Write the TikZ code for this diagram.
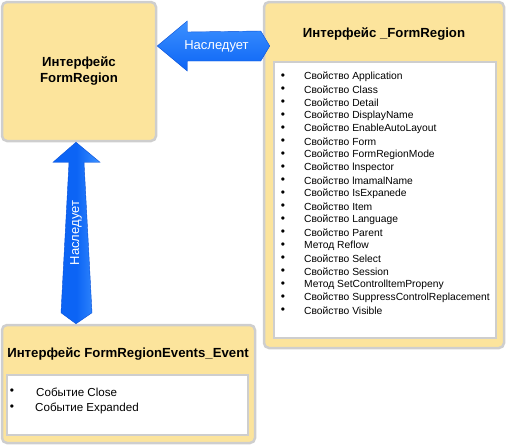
\documentclass[tikz,border=0pt]{standalone}
\usepackage{fontspec}
\setmainfont{Liberation Sans}
\definecolor{boxyellow}{RGB}{252,228,156}
\definecolor{boxgray}{RGB}{206,206,206}
\definecolor{arrowblue}{RGB}{12,100,245}
\definecolor{arrowlight}{RGB}{60,145,255}
\definecolor{arrowdark}{RGB}{8,80,215}
\usetikzlibrary{calc}

\begin{document}
\begin{tikzpicture}[x=1pt, y=-1pt,
    ifacebox/.style={draw=boxgray, line width=2.5pt, fill=boxyellow, rounded corners=5pt},
    listpanel/.style={draw=boxgray, line width=2.5pt, fill=white},
    ifacetitle/.style={font=\bfseries\fontsize{13.2}{16}\selectfont, align=center},
    itemtext/.style={font=\fontsize{10.3}{12}\selectfont, anchor=west, inner sep=0pt},
    eventtext/.style={font=\fontsize{11.6}{13}\selectfont, anchor=west, inner sep=0pt},
    bullettext/.style={font=\fontsize{12}{12}\selectfont, inner sep=0pt},
    inheritlabel/.style={font=\fontsize{13}{15}\selectfont, text=white, inner sep=0pt}]
  \useasboundingbox (0,0) rectangle (506,445);

  % Interface boxes
  \node[ifacebox, minimum width=154pt, minimum height=139pt] (formregion) at (79,71.5) {};
  \node[ifacebox, minimum width=240pt, minimum height=346pt] (formregionbase) at (384,175) {};
  \node[ifacebox, minimum width=253pt, minimum height=118pt] (events) at (128.5,384) {};

  % Member panels
  \node[listpanel, minimum width=222pt, minimum height=276pt] (baselist) at (385,200) {};
  \node[listpanel, minimum width=241pt, minimum height=60pt] (eventlist) at (127.5,405) {};

  % Titles
  \node[ifacetitle] (frtitle) at (79,71) {Интерфейс\\FormRegion};
  \node[ifacetitle] (basetitle) at (384,34) {Интерфейс \_FormRegion};
  \node[ifacetitle] (evtitle) at (128,354) {Интерфейс FormRegionEvents\_Event};

  % Members of _FormRegion
  \foreach \member [count=\i from 0] in {Свойство Application, Свойство Class, Свойство Detail,
      Свойство DisplayName, Свойство EnableAutoLayout, Свойство Form, Свойство FormRegionMode,
      Свойство lnspector, Свойство lmamalName, Свойство IsExpanede, Свойство Item,
      Свойство Language, Свойство Parent, Метод Reflow, Свойство Select, Свойство Session,
      Метод SetControlltemPropeny, Свойство SuppressControlReplacement, Свойство Visible} {
    \node[bullettext] (bb\i) at (283,77+13*\i) {•};
    \node[itemtext] (bm\i) at (304,77+13*\i) {\member};
  }

  % Members of FormRegionEvents_Event
  \node[bullettext] (eb0) at (12,392) {•};
  \node[eventtext] (em0) at (36,392) {Событие Close};
  \node[bullettext] (eb1) at (12,408) {•};
  \node[eventtext] (em1) at (35,408) {Событие Expanded};

  % Inheritance arrows
  \coordinate (htip) at (formregion.east |- 0,46);
  \coordinate (htail) at ($(formregionbase.west |- 0,46)+(7,0)$);
  \shade[top color=arrowlight, bottom color=arrowblue, draw=arrowdark, line width=0.4pt]
    (htip) -- ($(htip)+(30,-25)$) -- ($(htip)+(30,-14)$) -- ($(htail)+(-9,-15)$) -- (htail)
    -- ($(htail)+(-9,15)$) -- ($(htip)+(30,15)$) -- ($(htip)+(30,25)$) -- cycle;
  \node[inheritlabel] (hlabel) at ($(htip)!0.5!(htail)+(3,0)$) {Наследует};

  \coordinate (vtip) at (formregion.south -| 76,0);
  \coordinate (vtail) at (events.north -| 76,0);
  \shade[left color=arrowblue, right color=arrowlight, middle color=arrowblue, draw=arrowdark, line width=0.4pt]
    (vtip) -- ($(vtip)+(24,20)$) -- ($(vtip)+(8,20)$) -- ($(vtail)+(16,-11)$) -- (vtail)
    -- ($(vtail)+(-15,-11)$) -- ($(vtip)+(-7,20)$) -- ($(vtip)+(-23,20)$) -- cycle;
  \node[inheritlabel, rotate=90] (vlabel) at ($(vtip)!0.5!(vtail)$) {Наследует};
\end{tikzpicture}
\end{document}
